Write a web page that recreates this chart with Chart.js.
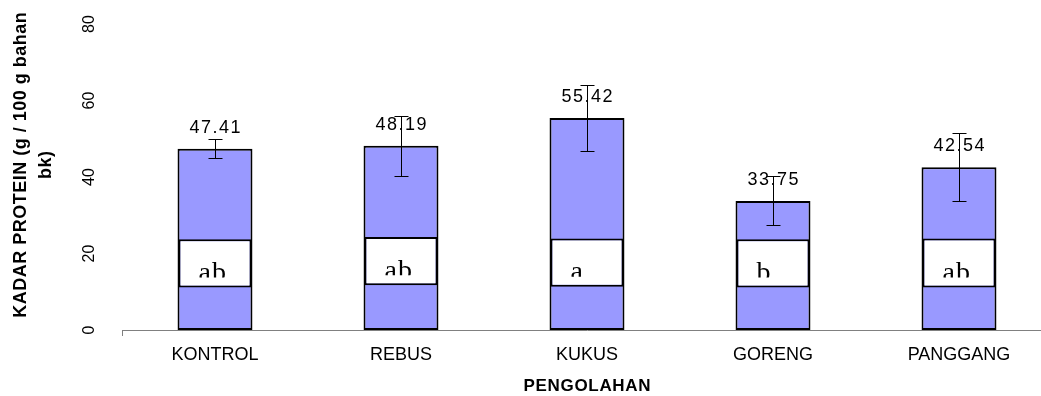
<!DOCTYPE html>
<html>
<head>
<meta charset="utf-8">
<script src="https://cdn.jsdelivr.net/npm/chart.js@4.4.0/dist/chart.umd.min.js"></script>
<style>
  html, body { margin: 0; padding: 0; background: #fff; overflow: hidden; }
  #wrap { position: relative; width: 1041px; height: 396px; overflow: hidden; background: #fff; }
  #c { position: absolute; left: 0; top: 0; }
</style>
</head>
<body>
<div id="wrap"><canvas id="c" width="1060" height="396"></canvas></div>
<script>
// Protein content per processing method (g / 100 g dry matter)
const categories = ['KONTROL', 'REBUS', 'KUKUS', 'GORENG', 'PANGGANG'];
const proteinMeans = [47.41, 48.19, 55.42, 33.75, 42.54];
const proteinErrors = [2.55, 7.85, 8.7, 6.4, 8.9];
// Significance letters and the span of their label boxes (value units)
const groupLetters = ['ab', 'ab', 'a', 'b', 'ab'];
const letterBoxLow = [11.1, 11.7, 11.3, 11.1, 11.1];
const letterBoxHigh = [23.7, 24.3, 23.9, 23.7, 23.9];
const yTicks = [0, 20, 40, 60, 80];
const yTitleLines = ['KADAR PROTEIN (g / 100 g bahan', 'bk)'];
const xTitle = 'PENGOLAHAN';

const SANS = '"Liberation Sans", Arial, sans-serif';
const SERIF = '"Liberation Serif", "Times New Roman", serif';

function spacedText(ctx, text, x, y, spacing) {
  ctx.letterSpacing = spacing + 'px';
  const shift = ctx.textAlign === 'center' ? spacing / 2 : 0;
  ctx.fillText(text, x + shift, y);
  ctx.letterSpacing = '0px';
}

const annotate = {
  id: 'annotate',
  afterDatasetsDraw(chart) {
    const ctx = chart.ctx;
    const yScale = chart.scales.y;
    const bars = chart.getDatasetMeta(0).data;
    const boxes = chart.getDatasetMeta(1).data;

    // letters inside the white boxes (lower edge hidden by the box's text area)
    boxes.forEach((b, i) => {
      const top = Math.min(b.y, b.base);
      const bottom = Math.max(b.y, b.base);
      const left = b.x - b.width / 2;
      ctx.save();
      ctx.beginPath();
      ctx.rect(left, top, b.width, bottom - top - 10);
      ctx.clip();
      ctx.font = '28px ' + SERIF;
      ctx.fillStyle = '#000';
      ctx.textAlign = 'left';
      ctx.textBaseline = 'alphabetic';
      spacedText(ctx, groupLetters[i], left + 20, bottom - 6.5, 1);
      ctx.restore();
    });

    // value labels above the bars
    bars.forEach((b, i) => {
      ctx.save();
      ctx.font = '18px ' + SANS;
      ctx.fillStyle = '#000';
      ctx.textAlign = 'center';
      ctx.textBaseline = 'alphabetic';
      spacedText(ctx, proteinMeans[i].toFixed(2), b.x, b.y - 16, 1.5);
      ctx.restore();
    });

    // error bars
    ctx.save();
    ctx.strokeStyle = '#000';
    ctx.lineWidth = 1;
    bars.forEach((b, i) => {
      const x = Math.round(b.x) + 0.5;
      const hi = Math.round(yScale.getPixelForValue(proteinMeans[i] + proteinErrors[i])) + 0.5;
      const lo = Math.round(yScale.getPixelForValue(proteinMeans[i] - proteinErrors[i])) + 0.5;
      ctx.beginPath();
      ctx.moveTo(x, hi); ctx.lineTo(x, lo);
      ctx.moveTo(x - 7, hi); ctx.lineTo(x + 7, hi);
      ctx.moveTo(x - 7, lo); ctx.lineTo(x + 7, lo);
      ctx.stroke();
    });
    ctx.restore();
  },
  afterDraw(chart) {
    const ctx = chart.ctx;
    const area = chart.chartArea;
    ctx.save();
    ctx.fillStyle = '#000';
    ctx.textAlign = 'center';
    ctx.textBaseline = 'middle';

    // y-axis title, two rotated lines
    ctx.font = 'bold 18px ' + SANS;
    const midY = area.top + 141;
    yTitleLines.forEach((line, k) => {
      ctx.save();
      ctx.translate(area.left - 101 + k * 25, midY);
      ctx.rotate(-Math.PI / 2);
      spacedText(ctx, line, 0, 0, 0.5);
      ctx.restore();
    });

    // x-axis title
    ctx.font = 'bold 17px ' + SANS;
    spacedText(ctx, xTitle, (area.left + area.right) / 2, 386, 0.7);
    ctx.restore();
  }
};

new Chart(document.getElementById('c'), {
  type: 'bar',
  data: {
    labels: categories,
    datasets: [
      {
        label: 'Kadar protein',
        data: proteinMeans,
        backgroundColor: '#9999FF',
        borderColor: '#000',
        borderWidth: 2,
        borderSkipped: false,
        barPercentage: 0.403,
        categoryPercentage: 1,
        grouped: false,
        order: 1
      },
      {
        label: 'Notasi',
        data: categories.map((_, i) => [letterBoxLow[i], letterBoxHigh[i]]),
        backgroundColor: '#fff',
        borderColor: '#000',
        borderWidth: 2,
        borderSkipped: false,
        barPercentage: 0.3925,
        categoryPercentage: 1,
        grouped: false,
        order: 0
      }
    ]
  },
  options: {
    responsive: false,
    animation: false,
    devicePixelRatio: 1,
    layout: { padding: { left: 0, right: 8, top: 24, bottom: 0 } },
    plugins: { legend: { display: false }, tooltip: { enabled: false } },
    scales: {
      x: {
        offset: true,
        grid: {
          display: true,
          drawOnChartArea: false,
          drawTicks: true,
          tickLength: 6,
          offset: true,
          color: (c) => (c.index === 0 ? '#808080' : 'rgba(0,0,0,0)')
        },
        border: { display: true, color: '#808080', width: 1 },
        ticks: {
          autoSkip: false,
          maxRotation: 0,
          minRotation: 0,
          padding: 8,
          color: '#000',
          font: { family: SANS, size: 18 }
        },
        afterFit(scale) {
          scale.height = 66;
          scale.paddingLeft = 0;
          scale.paddingRight = 0;
        }
      },
      y: {
        min: yTicks[0],
        max: yTicks[yTicks.length - 1],
        grid: { display: false, drawTicks: false },
        border: { display: false },
        afterBuildTicks(scale) {
          scale.ticks = yTicks.map((v) => ({ value: v }));
        },
        ticks: {
          minRotation: 90,
          maxRotation: 90,
          crossAlign: 'center',
          padding: 24,
          color: '#000',
          font: { family: SANS, size: 16 }
        },
        afterFit(scale) {
          scale.width = 122;
          scale.paddingTop = 0;
          scale.paddingBottom = 0;
        }
      }
    }
  },
  plugins: [annotate]
});
</script>
</body>
</html>
